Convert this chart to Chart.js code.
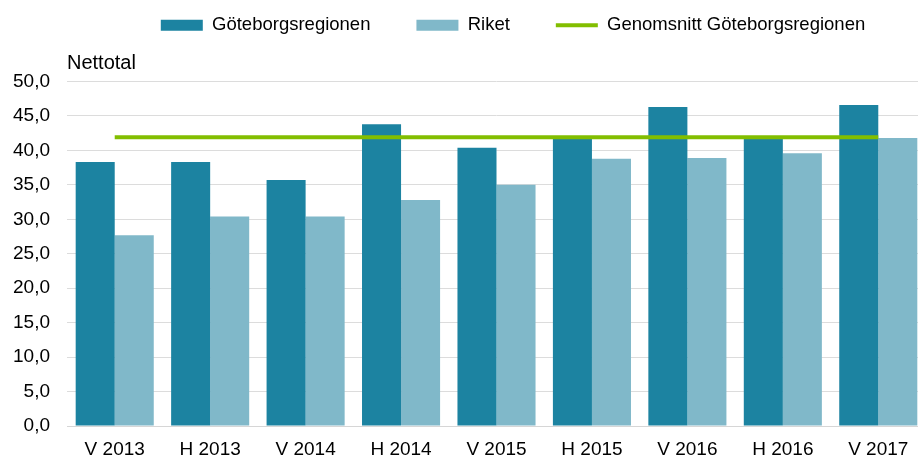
<!DOCTYPE html>
<html>
<head>
<meta charset="utf-8">
<script src="https://cdn.jsdelivr.net/npm/chart.js@4/dist/chart.umd.min.js"></script>
<style>
  html, body { margin: 0; padding: 0; background: #fff; overflow: hidden; }
  #wrap { position: relative; width: 926px; height: 457px; }
</style>
</head>
<body>
<div id="wrap"><canvas id="c"></canvas></div>
<script>
const categories = ['V 2013', 'H 2013', 'V 2014', 'H 2014', 'V 2015', 'H 2015', 'V 2016', 'H 2016', 'V 2017'];
const goteborg = [38.3, 38.3, 35.7, 43.8, 40.4, 41.9, 46.3, 41.9, 46.6];
const riket = [27.7, 30.4, 30.4, 32.8, 35.0, 38.8, 38.9, 39.6, 41.8];
const snittGoteborg = [41.9, 41.9, 41.9, 41.9, 41.9, 41.9, 41.9, 41.9, 41.9];
const seriesNames = ['Göteborgsregionen', 'Riket', 'Genomsnitt Göteborgsregionen'];
const yAxisTitle = 'Nettotal';

const FONT = '"Liberation Sans", Arial, sans-serif';

const titlePlugin = {
  id: 'nettotal',
  beforeInit(chart) {
    const lg = chart.legend;
    const fit = lg.fit;
    lg.fit = function () { fit.call(this); this.height = 113.5; };
    const draw = lg.draw;
    lg.draw = function () {
      const ctx = this.ctx;
      ctx.save();
      ctx.translate(50, 2);
      draw.call(this);
      ctx.restore();
    };
  },
  afterDraw(chart) {
    const ctx = chart.ctx;
    ctx.save();
    ctx.font = '20px ' + FONT;
    ctx.fillStyle = '#000';
    ctx.textAlign = 'left';
    ctx.textBaseline = 'alphabetic';
    ctx.fillText(yAxisTitle, chart.chartArea.left, chart.chartArea.top - 13);
    ctx.restore();
  }
};

new Chart(document.getElementById('c'), {
  type: 'bar',
  data: {
    labels: categories,
    datasets: [
      { label: seriesNames[0], data: goteborg, backgroundColor: '#1c83a1', borderWidth: 0,
        categoryPercentage: 0.818, barPercentage: 1.0, pointStyle: 'rect', order: 1 },
      { label: seriesNames[1], data: riket, backgroundColor: '#80b8c9', borderWidth: 0,
        categoryPercentage: 0.818, barPercentage: 1.0, pointStyle: 'rect', order: 1 },
      { type: 'line', label: seriesNames[2], data: snittGoteborg, borderColor: '#82be00',
        backgroundColor: '#82be00', borderWidth: 4, pointRadius: 0, pointStyle: 'line',
        tension: 0, order: 0 }
    ]
  },
  plugins: [titlePlugin],
  options: {
    responsive: true,
    maintainAspectRatio: false,
    animation: false,
    layout: { padding: { top: -32, left: 0, right: 0, bottom: 0 } },
    plugins: {
      tooltip: { enabled: false },
      legend: {
        position: 'top',
        labels: {
          usePointStyle: true,
          pointStyleWidth: 42,
          boxHeight: 11,
          padding: 46,
          color: '#000',
          font: { family: FONT, size: 18.5 },
          sort: (a, b) => a.datasetIndex - b.datasetIndex
        }
      }
    },
    scales: {
      x: {
        grid: { display: false, drawTicks: false },
        border: { display: true, color: '#d6d6d6', width: 1 },
        ticks: { color: '#000', font: { family: FONT, size: 19 }, padding: 12, maxRotation: 0 },
        afterFit(scale) { scale.height = 31; }
      },
      y: {
        min: 0, max: 50,
        grid: { color: '#dcdcdc', lineWidth: 1, drawTicks: false },
        border: { display: false },
        ticks: {
          stepSize: 5, color: '#000', padding: 17,
          font: { family: FONT, size: 19 },
          callback: v => v.toFixed(1).replace('.', ',')
        },
        afterFit(scale) { scale.width = 67; }
      }
    }
  }
});
</script>
</body>
</html>
